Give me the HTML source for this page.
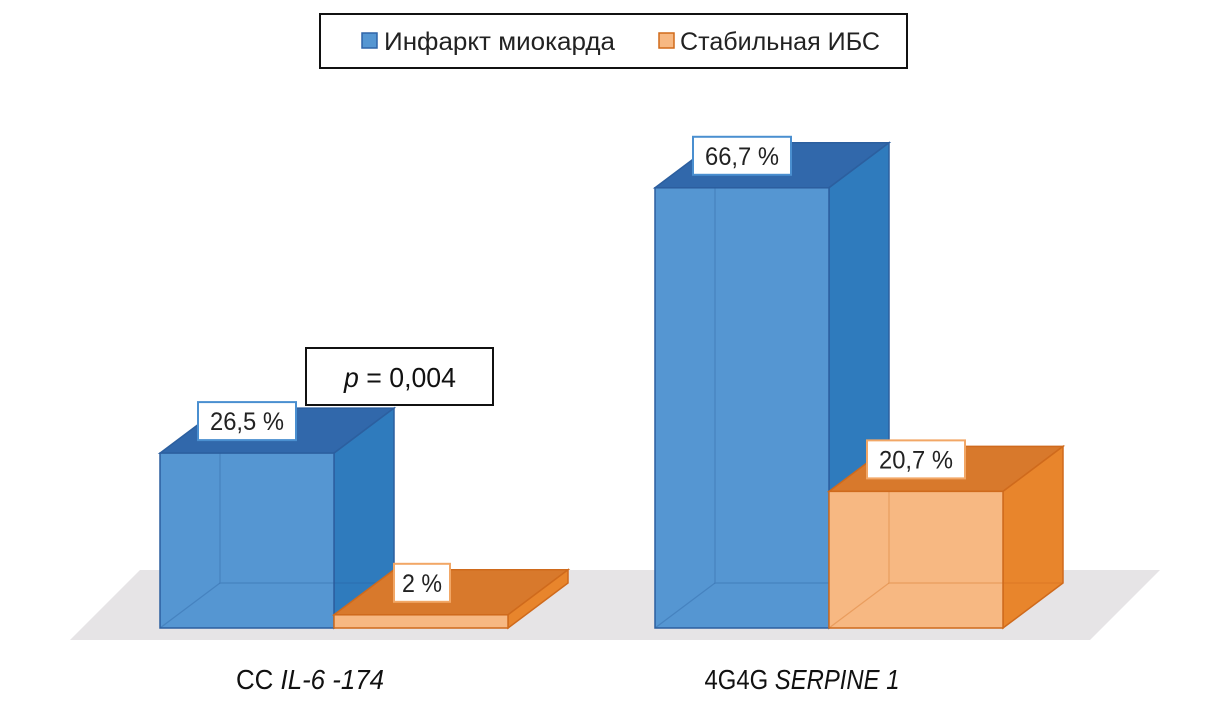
<!DOCTYPE html>
<html><head><meta charset="utf-8"><style>
html,body{margin:0;padding:0;background:#fff;}
svg{display:block;font-family:"Liberation Sans",sans-serif;}
</style></head><body>
<svg id="chart" width="1230" height="723" viewBox="0 0 1230 723" xmlns="http://www.w3.org/2000/svg">
  <polygon points="140,570 1160,570 1090,640 70,640" fill="#e6e4e6"/>
  <g id="bars"></g>
  <g>
    <rect x="320" y="14" width="587" height="54" fill="#fff" stroke="#111" stroke-width="2"/>
    <g>
      <rect x="362" y="33" width="15" height="15" fill="#5596d2" stroke="#2f64a8" stroke-width="1.5"/>
      <text x="384" y="50" font-size="25" fill="#222" textLength="231" lengthAdjust="spacingAndGlyphs">Инфаркт миокарда</text>
    </g>
    <g>
      <rect x="659" y="33" width="15" height="15" fill="#f7b882" stroke="#d06a1a" stroke-width="1.5"/>
      <text x="680" y="50" font-size="25" fill="#222" textLength="200" lengthAdjust="spacingAndGlyphs">Стабильная ИБС</text>
    </g>
  </g>
  <g>
    <rect x="306" y="348" width="187" height="57" fill="#fff" stroke="#111" stroke-width="2"/>
    <text x="400" y="387" font-size="28" text-anchor="middle" fill="#111" textLength="112" lengthAdjust="spacingAndGlyphs"><tspan font-style="italic">p</tspan> = 0,004</text>
  </g>
  <g id="xlabels"></g>
</svg>
<script>
const categories = ["CC IL-6 -174", "4G4G SERPINE 1"];
const catPlain = ["CC ", "4G4G "];
const catItalic = ["IL-6 -174", "SERPINE 1"];
const infarctValues = [26.5, 66.7];
const stableValues = [2, 20.7];
const infarctLabels = ["26,5 %", "66,7 %"];
const stableLabels = ["2 %", "20,7 %"];

const NS = "http://www.w3.org/2000/svg";
const baseY = 628, pxPer = 6.6, barW = 174, dx = 60, dy = -45;
const groupX = [160, 655];
const labelCenterOffset = [150, 147];
const labelWidths = [148, 195];
function y(v){ return baseY - v * pxPer; }
function mk(tag, attrs, parent){
  const e = document.createElementNS(NS, tag);
  for (const k in attrs) e.setAttribute(k, attrs[k]);
  parent.appendChild(e);
  return e;
}
const bars = document.getElementById("bars");
const palettes = {
  blue: {front:"#5596d2", side:"#2f7bbd", top:"#3168ab", edge:"#2c5f9f", label:"#4a8fd0"},
  orange: {front:"#f7b882", side:"#e8852c", top:"#d8792c", edge:"#cf6a1c", label:"#f2a766"}
};
function drawBar(x, v, pal, name, label){
  const g = mk("g", {}, bars);
  
  
  const t = y(v), r = x + barW;
  mk("polygon", {points:`${x},${t} ${r},${t} ${r+dx},${t+dy} ${x+dx},${t+dy}`, fill:pal.top, stroke:pal.edge, "stroke-width":1.5}, g);
  mk("polygon", {points:`${r},${t} ${r+dx},${t+dy} ${r+dx},${baseY+dy} ${r},${baseY}`, fill:pal.side, stroke:pal.edge, "stroke-width":1.5}, g);
  mk("rect", {x:x, y:t, width:barW, height:baseY-t, fill:pal.front, stroke:pal.edge, "stroke-width":1.5}, g);
  if (baseY - t > 20) {
    mk("polyline", {points:`${x+dx},${t+dy+45} ${x+dx},${baseY+dy} ${r+dx},${baseY+dy}`, fill:"none", stroke:pal.edge, "stroke-opacity":0.35, "stroke-width":1.2}, g);
    mk("line", {x1:x, y1:baseY, x2:x+dx, y2:baseY+dy, stroke:pal.edge, "stroke-opacity":0.35, "stroke-width":1.2}, g);
  }
  const w = label.length > 4 ? 98 : 56;
  const bx = label.length > 4 ? x + 38 : x + 60;
  const lg = mk("g", {}, g);
  
  
  const by = t + dy - 6;
  mk("rect", {x:bx, y:by, width:w, height:38, fill:"#fff", stroke:pal.label, "stroke-width":2}, lg);
  const tx = mk("text", {x:bx + w/2, y:by + 28, "font-size":25, "text-anchor":"middle", fill:"#222", textLength: label.length > 4 ? 74 : 40, lengthAdjust:"spacingAndGlyphs"}, lg);
  tx.textContent = label;
}
for (let i = 0; i < categories.length; i++){
  drawBar(groupX[i], infarctValues[i], palettes.blue, "bar-infarction-" + (i+1), infarctLabels[i]);
  drawBar(groupX[i] + barW, stableValues[i], palettes.orange, "bar-stable-ihd-" + (i+1), stableLabels[i]);
}
const xl = document.getElementById("xlabels");
for (let i = 0; i < categories.length; i++){
  const t = mk("text", {x: groupX[i] + labelCenterOffset[i], y: 689, "font-size": 28, "text-anchor": "middle", fill: "#111", textLength: labelWidths[i], lengthAdjust: "spacingAndGlyphs"}, xl);
  
  
  const a = mk("tspan", {}, t); a.textContent = catPlain[i];
  const b = mk("tspan", {"font-style":"italic"}, t); b.textContent = catItalic[i];
}
</script>
</body></html>
